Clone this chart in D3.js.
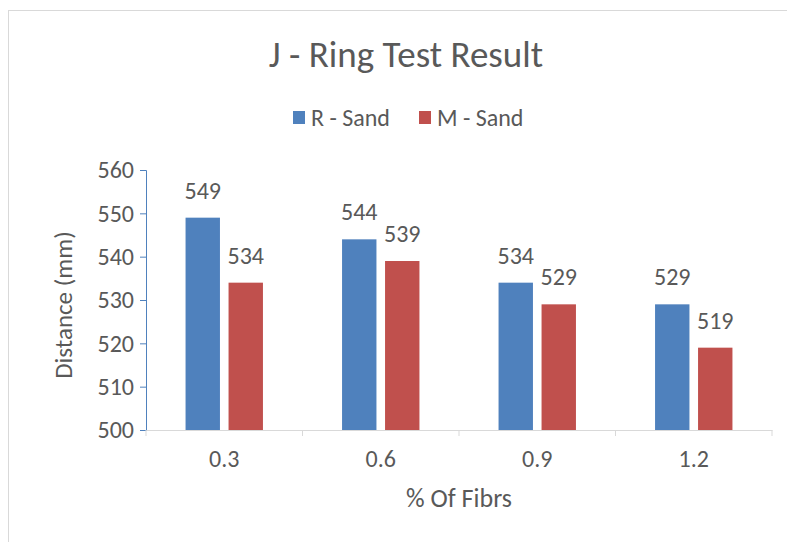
<!DOCTYPE html>
<html>
<head>
<meta charset="utf-8">
<script src="https://cdn.jsdelivr.net/npm/d3@7"></script>
<style>
  body { margin: 0; background: #fff; }
  text { font-family: Carlito, "Open Sans", sans-serif; fill: #595959; }
</style>
</head>
<body>
<svg id="chart"></svg>
<script>
// data
const categories = ["0.3", "0.6", "0.9", "1.2"];
const seriesNames = ["R - Sand", "M - Sand"];
const rSand = [549, 544, 534, 529];
const mSand = [534, 539, 529, 519];
const yTicks = [500, 510, 520, 530, 540, 550, 560];

const W = 787, H = 542;
const colors = { "R - Sand": "#4f81bd", "M - Sand": "#c0504d" };

const svg = d3.select("#chart").attr("width", W).attr("height", H);

// chart border
svg.append("rect")
    .attr("x", 8.5).attr("y", 10.5)
    .attr("width", 800).attr("height", 560)
    .attr("fill", "#fff")
    .attr("stroke", "#d9d9d9");

const plot = { left: 146, right: 772, top: 170, bottom: 430 };

const x0 = d3.scaleBand()
    .domain(categories)
    .range([plot.left, plot.right])
    .paddingInner(0)
    .paddingOuter(0);

const x1 = d3.scaleBand()
    .domain(seriesNames)
    .range([0, x0.bandwidth()])
    .paddingInner(0.2)
    .paddingOuter(0.92);

const y = d3.scaleLinear()
    .domain([500, 560])
    .range([plot.bottom, plot.top]);

// title
svg.append("text")
    .attr("x", 406).attr("y", 67)
    .attr("text-anchor", "middle")
    .style("font-size", "37px")
    .text("J - Ring Test Result");

// legend
const legendItems = [
    { name: "R - Sand", x: 293 },
    { name: "M - Sand", x: 419 }
];
const lg = svg.append("g");
legendItems.forEach(d => {
    lg.append("rect")
        .attr("x", d.x).attr("y", 111)
        .attr("width", 12).attr("height", 13)
        .attr("fill", colors[d.name]);
    lg.append("text")
        .attr("x", d.x + 18).attr("y", 126)
        .style("font-size", "24px")
        .text(d.name);
});

// bars
const rows = categories.map((c, i) => ({ cat: c, vals: [
    { name: "R - Sand", v: rSand[i] },
    { name: "M - Sand", v: mSand[i] }
] }));

const groups = svg.append("g").selectAll("g")
    .data(rows)
    .enter().append("g")
    .attr("transform", d => `translate(${x0(d.cat)},0)`);

groups.selectAll("rect")
    .data(d => d.vals)
    .enter().append("rect")
    .attr("x", d => x1(d.name))
    .attr("y", d => y(d.v))
    .attr("width", x1.bandwidth())
    .attr("height", d => y(500) - y(d.v))
    .attr("fill", d => colors[d.name]);

groups.selectAll("text")
    .data(d => d.vals)
    .enter().append("text")
    .attr("x", d => x1(d.name) + x1.bandwidth() / 2)
    .attr("y", d => y(d.v) - 19)
    .attr("text-anchor", "middle")
    .style("font-size", "24px")
    .text(d => d.v);

// y axis
const yAxis = svg.append("g")
    .attr("transform", `translate(${plot.left},0)`)
    .call(d3.axisLeft(y).tickValues(yTicks).tickSize(6).tickPadding(6));
yAxis.select(".domain").attr("stroke", "#4f81bd");
yAxis.selectAll(".tick line").attr("stroke", "#4f81bd");
yAxis.selectAll(".tick text").style("font-size", "24px").attr("fill", "#595959");

// x axis
const xAxis = svg.append("g")
    .attr("transform", `translate(0,${plot.bottom})`)
    .call(d3.axisBottom(x0).tickSize(0).tickPadding(20));
xAxis.select(".domain").attr("stroke", "#d9d9d9");
xAxis.selectAll(".tick text").style("font-size", "24px").attr("fill", "#595959");

// category boundary ticks
svg.append("g").selectAll("line")
    .data(categories.concat(["end"]))
    .enter().append("line")
    .attr("x1", (d, i) => plot.left + i * x0.step())
    .attr("x2", (d, i) => plot.left + i * x0.step())
    .attr("y1", plot.bottom).attr("y2", plot.bottom + 6)
    .attr("stroke", "#d9d9d9");

// axis titles
svg.append("text")
    .attr("x", 459).attr("y", 507)
    .attr("text-anchor", "middle")
    .style("font-size", "26px")
    .text("% Of Fibrs");

svg.append("text")
    .attr("transform", "translate(72,305) rotate(-90)")
    .attr("text-anchor", "middle")
    .style("font-size", "25px")
    .text("Distance (mm)");
</script>
</body>
</html>
